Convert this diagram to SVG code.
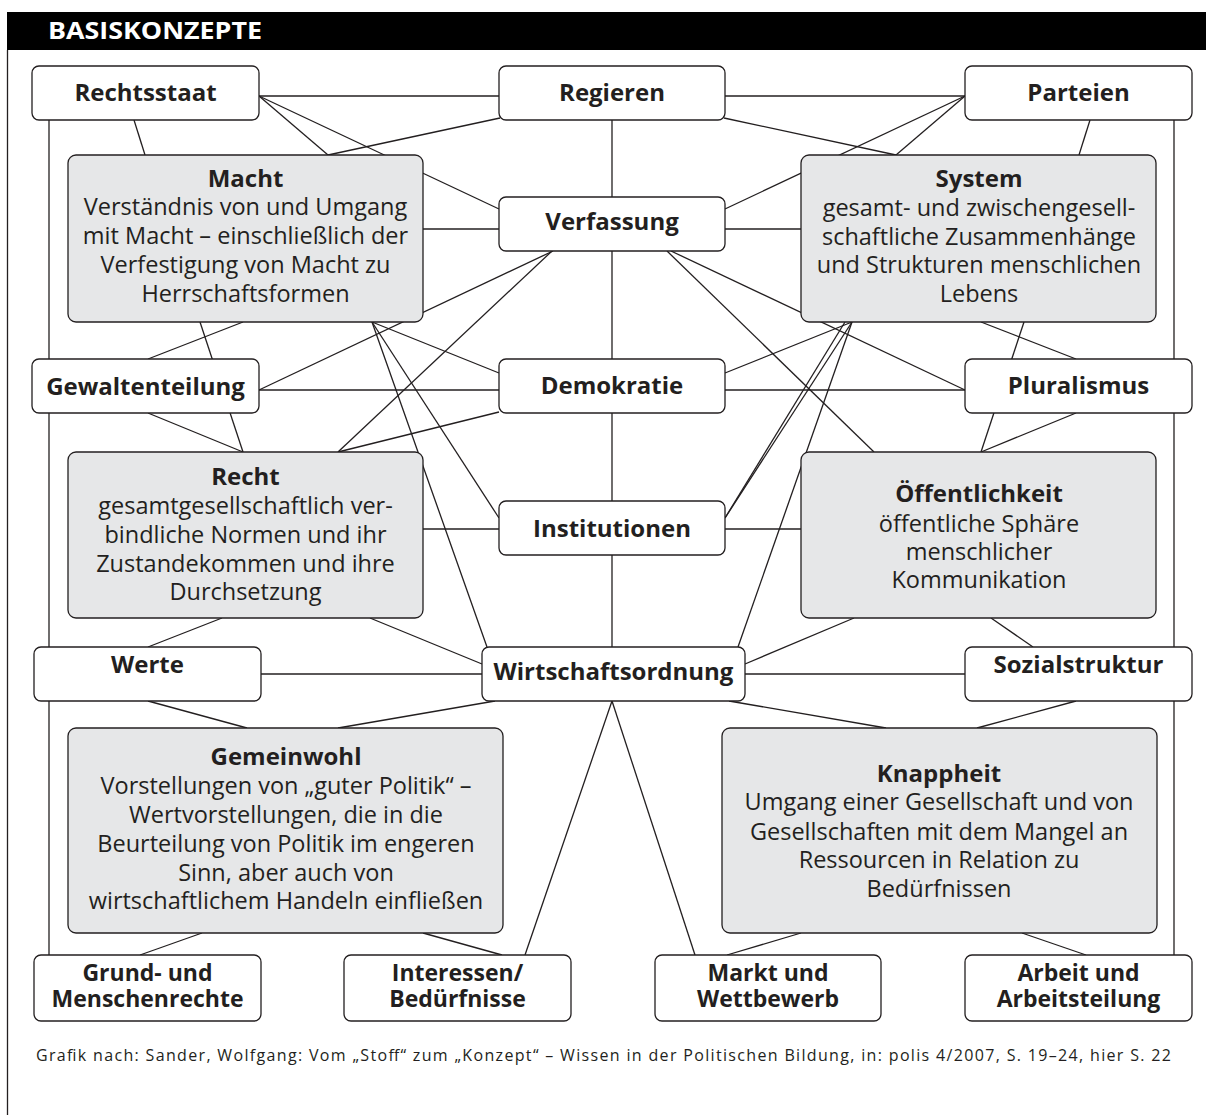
<svg xmlns="http://www.w3.org/2000/svg" width="1206" height="1115" viewBox="0 0 1206 1115">
<style>
.c{stroke:#231f20;stroke-width:1.3;fill:none}
.n{fill:#fff;stroke:#231f20;stroke-width:1.3}
.g{fill:#e6e7e8;stroke:#231f20;stroke-width:1.3}
.t{font-family:"Open Sans","Liberation Sans",sans-serif;font-weight:700;font-size:24px;fill:#231f20;text-anchor:middle}
.b{font-family:"Open Sans","Liberation Sans",sans-serif;font-weight:700;font-size:23px;fill:#231f20;text-anchor:middle}
.d{font-weight:400;font-size:23.5px}
.cap{font-family:"Open Sans","Liberation Sans",sans-serif;font-size:16px;fill:#231f20}
</style>
<rect width="1206" height="1115" fill="#fff"/>
<g id="frame">
<rect x="7" y="12" width="1199" height="38" fill="#000"/>
<line x1="7.5" y1="50" x2="7.5" y2="1115" stroke="#231f20" stroke-width="1.3"/>
<text x="48" y="39" font-family="'Open Sans','Liberation Sans',sans-serif" font-weight="700" font-size="23" fill="#fff" textLength="214" lengthAdjust="spacingAndGlyphs">BASISKONZEPTE</text>
</g>
<g id="connectors" class="c">
<line x1="259" y1="96" x2="499" y2="96"/>
<line x1="134" y1="120" x2="145" y2="155"/>
<line x1="259" y1="96" x2="328" y2="155"/>
<line x1="259" y1="96" x2="499" y2="209"/>
<line x1="500" y1="118" x2="328" y2="155"/>
<line x1="423" y1="229" x2="499" y2="229"/>
<line x1="553" y1="251" x2="259" y2="390"/>
<line x1="552" y1="251" x2="338" y2="452"/>
<line x1="243" y1="322" x2="148" y2="359"/>
<line x1="200" y1="322" x2="243" y2="452"/>
<line x1="148" y1="413" x2="243" y2="452"/>
<line x1="259" y1="390" x2="499" y2="390"/>
<line x1="372" y1="322" x2="499" y2="373"/>
<line x1="372" y1="322" x2="499" y2="518"/>
<line x1="372" y1="322" x2="487" y2="647"/>
<line x1="499" y1="412" x2="338" y2="452"/>
<line x1="423" y1="529" x2="499" y2="529"/>
<line x1="222" y1="618" x2="148" y2="647"/>
<line x1="370" y1="618" x2="482" y2="664"/>
<line x1="261" y1="674" x2="482" y2="674"/>
<line x1="148" y1="701" x2="247" y2="728"/>
<line x1="495" y1="701" x2="338" y2="728"/>
<line x1="612" y1="701" x2="525" y2="955"/>
<line x1="202" y1="933" x2="140" y2="955"/>
<line x1="423" y1="933" x2="502" y2="955"/>
<line x1="49" y1="120" x2="49" y2="955"/>
<line x1="612" y1="120" x2="612" y2="647"/>
<line x1="725" y1="96" x2="965" y2="96"/>
<line x1="1090" y1="120" x2="1079" y2="155"/>
<line x1="965" y1="96" x2="896" y2="155"/>
<line x1="965" y1="96" x2="725" y2="209"/>
<line x1="724" y1="118" x2="896" y2="155"/>
<line x1="725" y1="229" x2="801" y2="229"/>
<line x1="671" y1="251" x2="965" y2="390"/>
<line x1="667" y1="251" x2="874" y2="452"/>
<line x1="981" y1="322" x2="1076" y2="359"/>
<line x1="1024" y1="322" x2="981" y2="452"/>
<line x1="1076" y1="413" x2="981" y2="452"/>
<line x1="725" y1="390" x2="965" y2="390"/>
<line x1="852" y1="322" x2="725" y2="373"/>
<line x1="852" y1="322" x2="725" y2="518"/>
<line x1="845" y1="322" x2="725" y2="518"/>
<line x1="852" y1="322" x2="738" y2="647"/>
<line x1="725" y1="529" x2="801" y2="529"/>
<line x1="991" y1="618" x2="1033" y2="647"/>
<line x1="854" y1="618" x2="745" y2="664"/>
<line x1="745" y1="674" x2="965" y2="674"/>
<line x1="1076" y1="701" x2="977" y2="728"/>
<line x1="729" y1="701" x2="886" y2="728"/>
<line x1="612" y1="701" x2="695" y2="955"/>
<line x1="1022" y1="933" x2="1086" y2="955"/>
<line x1="801" y1="933" x2="727" y2="955"/>
<line x1="1174" y1="120" x2="1174" y2="955"/>
</g>
<g id="rechtsstaat"><rect class="n" x="32" y="66" width="227" height="54" rx="7"/><text class="t" x="145.5" y="101">Rechtsstaat</text></g>
<g id="regieren"><rect class="n" x="499" y="66" width="226" height="54" rx="7"/><text class="t" x="612" y="101">Regieren</text></g>
<g id="parteien"><rect class="n" x="965" y="66" width="227" height="54" rx="7"/><text class="t" x="1078.5" y="101">Parteien</text></g>
<g id="macht"><rect class="g" x="68" y="155" width="355" height="167" rx="8"/>
<text class="t" x="245.5" y="187">Macht<tspan class="d" x="245.5" y="215">Verständnis von und Umgang</tspan><tspan class="d" x="245.5" y="244">mit Macht – einschließlich der</tspan><tspan class="d" x="245.5" y="273">Verfestigung von Macht zu</tspan><tspan class="d" x="245.5" y="302">Herrschaftsformen</tspan></text></g>
<g id="verfassung"><rect class="n" x="499" y="197" width="226" height="54" rx="7"/><text class="t" x="612" y="230">Verfassung</text></g>
<g id="system"><rect class="g" x="801" y="155" width="355" height="167" rx="8"/>
<text class="t" x="979" y="187">System<tspan class="d" x="979" y="216">gesamt- und zwischengesell-</tspan><tspan class="d" x="979" y="245">schaftliche Zusammenhänge</tspan><tspan class="d" x="979" y="273">und Strukturen menschlichen</tspan><tspan class="d" x="979" y="302">Lebens</tspan></text></g>
<g id="gewaltenteilung"><rect class="n" x="32" y="359" width="227" height="54" rx="7"/><text class="t" x="145.5" y="395">Gewaltenteilung</text></g>
<g id="demokratie"><rect class="n" x="499" y="359" width="226" height="54" rx="7"/><text class="t" x="612" y="394">Demokratie</text></g>
<g id="pluralismus"><rect class="n" x="965" y="359" width="227" height="54" rx="7"/><text class="t" x="1078.5" y="394">Pluralismus</text></g>
<g id="recht"><rect class="g" x="68" y="452" width="355" height="166" rx="8"/>
<text class="t" x="245.5" y="485">Recht<tspan class="d" x="245.5" y="514">gesamtgesellschaftlich ver-</tspan><tspan class="d" x="245.5" y="543">bindliche Normen und ihr</tspan><tspan class="d" x="245.5" y="572">Zustandekommen und ihre</tspan><tspan class="d" x="245.5" y="600">Durchsetzung</tspan></text></g>
<g id="institutionen"><rect class="n" x="499" y="501" width="226" height="54" rx="7"/><text class="t" x="612" y="537">Institutionen</text></g>
<g id="oeffentlichkeit"><rect class="g" x="801" y="452" width="355" height="166" rx="8"/>
<text class="t" x="979" y="502">Öffentlichkeit<tspan class="d" x="979" y="532">öffentliche Sphäre</tspan><tspan class="d" x="979" y="560">menschlicher</tspan><tspan class="d" x="979" y="588">Kommunikation</tspan></text></g>
<g id="werte"><rect class="n" x="34" y="647" width="227" height="54" rx="7"/><text class="t" x="147.5" y="673">Werte</text></g>
<g id="wirtschaftsordnung"><rect class="n" x="482" y="647" width="263" height="54" rx="7"/><text class="t" x="613.5" y="680">Wirtschaftsordnung</text></g>
<g id="sozialstruktur"><rect class="n" x="965" y="647" width="227" height="54" rx="7"/><text class="t" x="1078.5" y="673">Sozialstruktur</text></g>
<g id="gemeinwohl"><rect class="g" x="68" y="728" width="435" height="205" rx="8"/>
<text class="t" x="286" y="765">Gemeinwohl<tspan class="d" x="286" y="794">Vorstellungen von „guter Politik“ –</tspan><tspan class="d" x="286" y="823">Wertvorstellungen, die in die</tspan><tspan class="d" x="286" y="852">Beurteilung von Politik im engeren</tspan><tspan class="d" x="286" y="881">Sinn, aber auch von</tspan><tspan class="d" x="286" y="909">wirtschaftlichem Handeln einfließen</tspan></text></g>
<g id="knappheit"><rect class="g" x="722" y="728" width="435" height="205" rx="8"/>
<text class="t" x="939" y="782">Knappheit<tspan class="d" x="939" y="810">Umgang einer Gesellschaft und von</tspan><tspan class="d" x="939" y="840">Gesellschaften mit dem Mangel an</tspan><tspan class="d" x="939" y="868">Ressourcen in Relation zu</tspan><tspan class="d" x="939" y="897">Bedürfnissen</tspan></text></g>
<g id="grundrechte"><rect class="n" x="34" y="955" width="227" height="66" rx="7"/><text class="b" x="147.5" y="981">Grund- und<tspan x="147.5" y="1007">Menschenrechte</tspan></text></g>
<g id="interessen"><rect class="n" x="344" y="955" width="227" height="66" rx="7"/><text class="b" x="457.5" y="981">Interessen/<tspan x="457.5" y="1007">Bedürfnisse</tspan></text></g>
<g id="markt"><rect class="n" x="655" y="955" width="226" height="66" rx="7"/><text class="b" x="768" y="981">Markt und<tspan x="768" y="1007">Wettbewerb</tspan></text></g>
<g id="arbeit"><rect class="n" x="965" y="955" width="227" height="66" rx="7"/><text class="b" x="1078.5" y="981">Arbeit und<tspan x="1078.5" y="1007">Arbeitsteilung</tspan></text></g>
<text class="cap" x="36" y="1061" textLength="1135" lengthAdjust="spacing">Grafik nach: Sander, Wolfgang: Vom „Stoff“ zum „Konzept“ – Wissen in der Politischen Bildung, in: polis 4/2007, S. 19–24, hier S. 22</text>
</svg>
